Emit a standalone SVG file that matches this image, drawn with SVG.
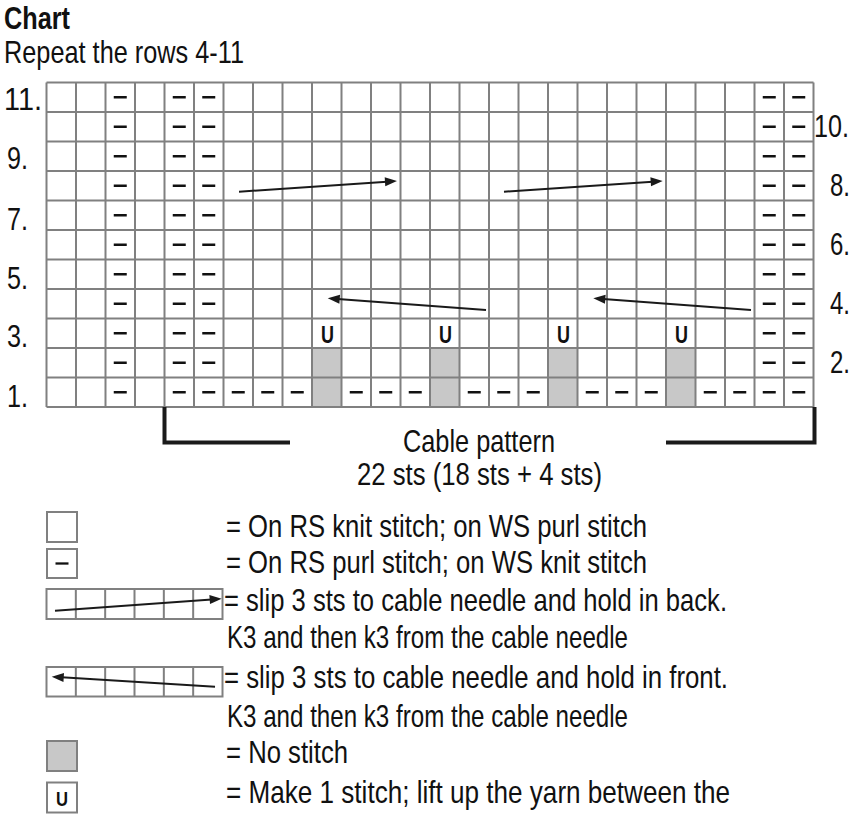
<svg xmlns="http://www.w3.org/2000/svg" width="854" height="823" viewBox="0 0 854 823">
<style>
.t{font-family:'Liberation Sans Narrow','Arial Narrow','Liberation Sans',Arial,sans-serif;font-size:30.5px;fill:#111}
.b{font-weight:bold}
.u{font-family:'Liberation Sans Narrow','Arial Narrow','Liberation Sans',Arial,sans-serif;fill:#111;text-anchor:middle;font-weight:bold}
.g{fill:none;stroke:#808080;stroke-width:2}
.box{fill:#fff;stroke:#808080;stroke-width:2}
.ns{fill:#c8c8c8}
.d{fill:none;stroke:#111;stroke-width:2.3}
.arr{fill:none;stroke:#1a1a1a;stroke-width:2;marker-end:url(#ah)}
.br{fill:none;stroke:#1a1a1a;stroke-width:4}
.m{text-anchor:middle}
</style>
<defs>
<marker id="ah" markerUnits="userSpaceOnUse" markerWidth="12" markerHeight="9" refX="2" refY="4.5" orient="auto" overflow="visible">
<path d="M0,0 L12,4.5 L0,9 z" fill="#1a1a1a"/>
</marker>
</defs>
<rect width="854" height="823" fill="#fff"/>

<g id="titles">
<text class="t b" x="4" y="28.5" font-size="28" textLength="66" lengthAdjust="spacingAndGlyphs">Chart</text>
<text class="t" x="4" y="63" font-size="32" textLength="240" lengthAdjust="spacingAndGlyphs">Repeat the rows 4-11</text>
</g>

<g id="chart">
<rect x="46.5" y="82.5" width="767" height="324.5" fill="#fff"/>
<g class="ns">
<rect x="312" y="348" width="29.5" height="59"/>
<rect x="430" y="348" width="29.5" height="59"/>
<rect x="548" y="348" width="29.5" height="59"/>
<rect x="666" y="348" width="29.5" height="59"/>
</g>
<path class="g" d="M46.5 82.5V407M76 82.5V407M105.5 82.5V407M135 82.5V407M164.5 82.5V407M194 82.5V407M223.5 82.5V407M253 82.5V407M282.5 82.5V407M312 82.5V407M341.5 82.5V407M371 82.5V407M400.5 82.5V407M430 82.5V407M459.5 82.5V407M489 82.5V407M518.5 82.5V407M548 82.5V407M577.5 82.5V407M607 82.5V407M636.5 82.5V407M666 82.5V407M695.5 82.5V407M725 82.5V407M754.5 82.5V407M784 82.5V407M813.5 82.5V407M46.5 82.5H813.5M46.5 112H813.5M46.5 141.5H813.5M46.5 171H813.5M46.5 200.5H813.5M46.5 230H813.5M46.5 259.5H813.5M46.5 289H813.5M46.5 318.5H813.5M46.5 348H813.5M46.5 377.5H813.5M46.5 407H813.5"/>
<path class="d" d="M113.75 97.25h13M172.75 97.25h13M202.25 97.25h13M762.75 97.25h13M792.25 97.25h13
M113.75 126.75h13M172.75 126.75h13M202.25 126.75h13M762.75 126.75h13M792.25 126.75h13
M113.75 156.25h13M172.75 156.25h13M202.25 156.25h13M762.75 156.25h13M792.25 156.25h13
M113.75 185.75h13M172.75 185.75h13M202.25 185.75h13M762.75 185.75h13M792.25 185.75h13
M113.75 215.25h13M172.75 215.25h13M202.25 215.25h13M762.75 215.25h13M792.25 215.25h13
M113.75 244.75h13M172.75 244.75h13M202.25 244.75h13M762.75 244.75h13M792.25 244.75h13
M113.75 274.25h13M172.75 274.25h13M202.25 274.25h13M762.75 274.25h13M792.25 274.25h13
M113.75 303.75h13M172.75 303.75h13M202.25 303.75h13M762.75 303.75h13M792.25 303.75h13
M113.75 333.25h13M172.75 333.25h13M202.25 333.25h13M762.75 333.25h13M792.25 333.25h13
M113.75 362.75h13M172.75 362.75h13M202.25 362.75h13M762.75 362.75h13M792.25 362.75h13
M113.75 392.25h13M172.75 392.25h13M202.25 392.25h13M231.75 392.25h13M261.25 392.25h13M290.75 392.25h13M349.75 392.25h13M379.25 392.25h13M408.75 392.25h13M467.75 392.25h13M497.25 392.25h13M526.75 392.25h13M585.75 392.25h13M615.25 392.25h13M644.75 392.25h13M703.75 392.25h13M733.25 392.25h13M762.75 392.25h13M792.25 392.25h13"/>
<g class="u" font-size="23">
<text x="327.5" y="343" textLength="13" lengthAdjust="spacingAndGlyphs">U</text>
<text x="445.5" y="343" textLength="13" lengthAdjust="spacingAndGlyphs">U</text>
<text x="563.5" y="343" textLength="13" lengthAdjust="spacingAndGlyphs">U</text>
<text x="681.5" y="343" textLength="13" lengthAdjust="spacingAndGlyphs">U</text>
</g>
</g>

<g id="cables">
<path class="arr" d="M239 191.7L387 181.7"/>
<path class="arr" d="M504 191.7L652.7 181.7"/>
<path class="arr" d="M486 310L337.7 299"/>
<path class="arr" d="M751 310L603.3 299"/>
</g>

<g id="row-labels">
<text class="t" x="4" y="110" font-size="30" textLength="38" lengthAdjust="spacingAndGlyphs">11.</text>
<text class="t" x="7" y="168.5" font-size="29" textLength="21" lengthAdjust="spacingAndGlyphs">9.</text>
<text class="t" x="7" y="229.5" font-size="29" textLength="21" lengthAdjust="spacingAndGlyphs">7.</text>
<text class="t" x="7" y="288.5" font-size="29" textLength="21" lengthAdjust="spacingAndGlyphs">5.</text>
<text class="t" x="7" y="346.5" font-size="29" textLength="21" lengthAdjust="spacingAndGlyphs">3.</text>
<text class="t" x="7" y="406.5" font-size="29" textLength="21" lengthAdjust="spacingAndGlyphs">1.</text>
<text class="t" x="814" y="137" font-size="27" textLength="35" lengthAdjust="spacingAndGlyphs">10.</text>
<text class="t" x="830" y="196" font-size="28" textLength="20" lengthAdjust="spacingAndGlyphs">8.</text>
<text class="t" x="830" y="255" font-size="28" textLength="20" lengthAdjust="spacingAndGlyphs">6.</text>
<text class="t" x="830" y="314" font-size="28" textLength="20" lengthAdjust="spacingAndGlyphs">4.</text>
<text class="t" x="830" y="373" font-size="28" textLength="20" lengthAdjust="spacingAndGlyphs">2.</text>
</g>

<g id="bracket">
<path class="br" d="M164.5 407V442.5H290"/>
<path class="br" d="M814.5 407V442.5H666"/>
<text class="t m" x="479" y="452" font-size="29" textLength="152" lengthAdjust="spacingAndGlyphs">Cable pattern</text>
<text class="t m" x="479.5" y="485" font-size="29" textLength="245" lengthAdjust="spacingAndGlyphs">22 sts (18 sts + 4 sts)</text>
</g>

<g id="legend-knit">
<rect class="box" x="47" y="512" width="30" height="30"/>
<text class="t" x="226" y="537" textLength="421" lengthAdjust="spacingAndGlyphs">= On RS knit stitch; on WS purl stitch</text>
</g>
<g id="legend-purl">
<rect class="box" x="47" y="549" width="30" height="29"/>
<path class="d" d="M55.5 563.5h13"/>
<text class="t" x="226" y="573" textLength="421" lengthAdjust="spacingAndGlyphs">= On RS purl stitch; on WS knit stitch</text>
</g>
<g id="legend-cable-back">
<rect class="box" x="46.5" y="589" width="176" height="30"/>
<path class="g" d="M75.83 589V619M105.17 589V619M134.5 589V619M163.83 589V619M193.17 589V619"/>
<path class="arr" d="M55 610.7L211.7 599.4"/>
<text class="t" x="224" y="611" textLength="503" lengthAdjust="spacingAndGlyphs">= slip 3 sts to cable needle and hold in back.</text>
<text class="t" x="227" y="648" textLength="401" lengthAdjust="spacingAndGlyphs">K3 and then k3 from the cable needle</text>
</g>
<g id="legend-cable-front">
<rect class="box" x="46.5" y="667" width="176" height="29.5"/>
<path class="g" d="M75.83 667V696.5M105.17 667V696.5M134.5 667V696.5M163.83 667V696.5M193.17 667V696.5"/>
<path class="arr" d="M215 686.7L61.7 677.3"/>
<text class="t" x="224" y="688" textLength="504" lengthAdjust="spacingAndGlyphs">= slip 3 sts to cable needle and hold in front.</text>
<text class="t" x="227" y="727" textLength="401" lengthAdjust="spacingAndGlyphs">K3 and then k3 from the cable needle</text>
</g>
<g id="legend-nostitch">
<rect class="box" x="47" y="741" width="30" height="30" style="fill:#c8c8c8"/>
<text class="t" x="226" y="763" textLength="122" lengthAdjust="spacingAndGlyphs">= No stitch</text>
</g>
<g id="legend-make1">
<rect class="box" x="47" y="782.5" width="30" height="30"/>
<text class="u" x="62" y="806" font-size="21" textLength="12" lengthAdjust="spacingAndGlyphs">U</text>
<text class="t" x="226" y="803" textLength="504" lengthAdjust="spacingAndGlyphs">= Make 1 stitch; lift up the yarn between the</text>
</g>
</svg>
